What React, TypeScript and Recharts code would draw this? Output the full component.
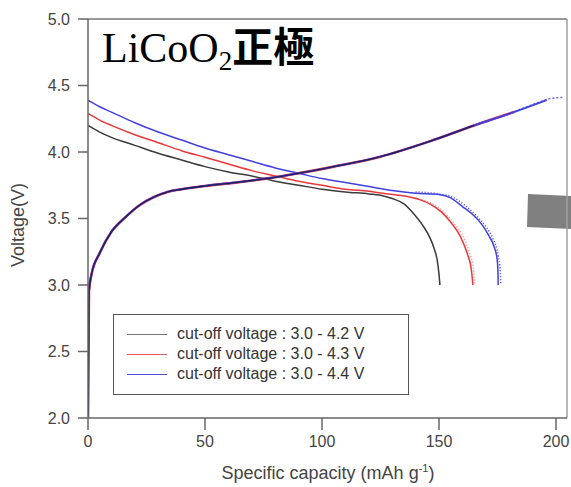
import { LineChart, Line, XAxis, YAxis, ReferenceLine, Label } from "recharts";

// charge curve, shared by all three cut-offs (each stops at its own upper limit)
const chargeCapacity = [0, 0.4, 1.5, 5, 10, 16, 22, 28, 34, 40, 50, 63, 76, 90, 105, 125, 146, 165, 182, 196];
const chargeVoltage = [2.0, 2.95, 3.08, 3.24, 3.4, 3.51, 3.6, 3.66, 3.7, 3.72, 3.745, 3.77, 3.8, 3.84, 3.89, 3.965, 4.08, 4.2, 4.3, 4.39];
const chargeLimit = [165, 182, 196];

// second-cycle charge tail of the 4.4 V cell
const chargeTailCapacity = [176, 186, 192, 197, 203];
const chargeTailVoltage = [4.26, 4.33, 4.37, 4.4, 4.41];

// discharge curves
const dischargeCapacity42 = [0, 5, 10, 20, 30, 40, 50, 60, 70, 80, 90, 100, 110, 120, 125, 130, 135, 139, 143, 146, 148, 149.3, 150, 150.4];
const dischargeVoltage42 = [4.2, 4.15, 4.11, 4.05, 3.99, 3.94, 3.89, 3.85, 3.82, 3.78, 3.75, 3.72, 3.7, 3.685, 3.675, 3.65, 3.61, 3.54, 3.45, 3.36, 3.27, 3.18, 3.08, 3.0];

const dischargeCapacity43 = [0, 5, 10, 20, 30, 40, 50, 60, 70, 80, 90, 100, 110, 120, 126, 135, 142, 146, 151, 156, 159, 162, 163.8, 164.5];
const dischargeVoltage43 = [4.29, 4.24, 4.2, 4.13, 4.07, 4.01, 3.96, 3.91, 3.86, 3.82, 3.78, 3.75, 3.72, 3.705, 3.69, 3.67, 3.64, 3.61, 3.55, 3.45, 3.37, 3.24, 3.12, 3.0];

const dischargeCapacity44 = [0, 5, 10, 20, 30, 40, 50, 60, 70, 80, 90, 100, 110, 120, 130, 140, 150, 155, 160, 165, 168.5, 171, 173.5, 174.8, 175.2, 175.3];
const dischargeVoltage44 = [4.39, 4.34, 4.3, 4.22, 4.15, 4.09, 4.03, 3.98, 3.93, 3.88, 3.84, 3.8, 3.77, 3.74, 3.71, 3.69, 3.68, 3.655, 3.59, 3.52, 3.45, 3.38, 3.29, 3.2, 3.1, 3.0];

// second-cycle discharge knees (dotted)
const dottedCapacity43 = [140, 146, 152, 157, 160.5, 163, 164.8, 165.4];
const dottedVoltage43 = [3.65, 3.62, 3.55, 3.45, 3.36, 3.24, 3.12, 3.0];
const dottedCapacity44 = [140, 150, 156, 161, 166, 170, 173, 175.3, 176.2, 176.4];
const dottedVoltage44 = [3.7, 3.685, 3.66, 3.6, 3.52, 3.44, 3.35, 3.22, 3.1, 3.0];

const legendLabels = [
  "cut-off voltage : 3.0 - 4.2 V",
  "cut-off voltage : 3.0 - 4.3 V",
  "cut-off voltage : 3.0 - 4.4 V",
];
const seriesColors = ["#3a3a3a", "#e8383c", "#4040e0"];
const legendLineColors = ["#777", "#e85a5e", "#5050e0"];

const xTicks = [0, 50, 100, 150, 200];
const yTicks = [2.0, 2.5, 3.0, 3.5, 4.0, 4.5, 5.0];
const xMax = 204.7;

const toPoints = (cap: number[], volt: number[]) => cap.map((x, i) => ({ x, v: volt[i] }));

const chargeCurves = chargeLimit.map((limit) =>
  toPoints(chargeCapacity, chargeVoltage).filter((p) => p.x <= limit)
);
const dischargeCurves = [
  toPoints(dischargeCapacity42, dischargeVoltage42),
  toPoints(dischargeCapacity43, dischargeVoltage43),
  toPoints(dischargeCapacity44, dischargeVoltage44),
];

const sans = "'Liberation Sans', Arial, sans-serif";
const serif = "'Liberation Serif', 'Times New Roman', serif";
const axisColor = "#666";

function Legend() {
  return (
    <div
      style={{
        position: "absolute",
        left: 113,
        top: 314,
        width: 296,
        height: 81,
        boxSizing: "border-box",
        border: "1.5px solid #555",
        background: "#fff",
        fontFamily: sans,
        fontSize: 16,
        color: "#333",
      }}
    >
      {legendLabels.map((label, i) => (
        <div
          key={label}
          style={{ position: "absolute", left: 13, top: 9 + i * 20, height: 20, display: "flex", alignItems: "center" }}
        >
          <span style={{ display: "inline-block", width: 40, height: 0, borderTop: `1.5px solid ${legendLineColors[i]}`, marginRight: 10 }} />
          <span>{label}</span>
        </div>
      ))}
    </div>
  );
}

export default function App() {
  return (
    <div style={{ position: "absolute", left: 0, top: 0, width: 571, height: 487, background: "#fff", overflow: "hidden" }}>
      {/* grey arrow block at the right edge */}
      <div
        style={{
          position: "absolute",
          left: 527,
          top: 194,
          width: 44,
          height: 36,
          background: "#808080",
          clipPath: "polygon(1px 0, 44px 2px, 44px 35px, 0 33px)",
        }}
      />
      <div style={{ position: "absolute", left: 0, top: 0 }}>
        <LineChart width={571} height={487} margin={{ top: 19, right: 4, left: 0, bottom: 0 }}>
          <XAxis
            dataKey="x"
            type="number"
            domain={[0, xMax]}
            ticks={xTicks}
            allowDataOverflow
            height={69}
            tickSize={12}
            tickMargin={6}
            axisLine={{ stroke: axisColor, strokeWidth: 1.5 }}
            tickLine={{ stroke: axisColor, strokeWidth: 1.5 }}
            tick={{ fill: "#444", fontSize: 16, fontFamily: sans }}
          >
            <Label
              content={() => (
                <text x={328} y={479} textAnchor="middle" fill="#444" fontSize={18} fontFamily={sans}>
                  Specific capacity (mAh g
                  <tspan fontSize={11} dy={-7}>-1</tspan>
                  <tspan dy={7}>)</tspan>
                </text>
              )}
            />
          </XAxis>
          <YAxis
            type="number"
            domain={[2, 5]}
            ticks={yTicks}
            allowDataOverflow
            width={88}
            tickSize={10}
            tickMargin={8}
            tickFormatter={(v: number) => v.toFixed(1)}
            axisLine={{ stroke: axisColor, strokeWidth: 1.5 }}
            tickLine={{ stroke: axisColor, strokeWidth: 1.5 }}
            tick={{ fill: "#444", fontSize: 16, fontFamily: sans }}
          >
            <Label
              content={() => (
                <text
                  x={24}
                  y={225}
                  textAnchor="middle"
                  fill="#444"
                  fontSize={18}
                  fontFamily={sans}
                  transform="rotate(-90 24 225)"
                >
                  Voltage(V)
                </text>
              )}
            />
          </YAxis>
          <ReferenceLine y={5} stroke="#777" strokeWidth={1.5} />
          <ReferenceLine x={xMax} stroke="#a0a0a0" strokeWidth={1.5} />

          {dischargeCurves.map((pts, i) => (
            <Line
              key={`d${i}`}
              data={pts}
              dataKey="v"
              type="monotone"
              stroke={seriesColors[i]}
              strokeWidth={1.5}
              dot={false}
              isAnimationActive={false}
            />
          ))}
          <Line
            data={toPoints(dottedCapacity43, dottedVoltage43)}
            dataKey="v"
            type="monotone"
            stroke={seriesColors[1]}
            strokeWidth={1.5}
            strokeDasharray="1 2"
            strokeOpacity={0.6}
            dot={false}
            isAnimationActive={false}
          />
          <Line
            data={toPoints(dottedCapacity44, dottedVoltage44)}
            dataKey="v"
            type="monotone"
            stroke={seriesColors[2]}
            strokeWidth={1.5}
            strokeDasharray="1 2"
            dot={false}
            isAnimationActive={false}
          />
          <Line
            data={toPoints(chargeTailCapacity, chargeTailVoltage)}
            dataKey="v"
            type="monotone"
            stroke="#6a6ae0"
            strokeWidth={1.5}
            strokeDasharray="2 2"
            dot={false}
            isAnimationActive={false}
          />
          {/* the three charge curves overlap; black is drawn last so the shared part reads dark */}
          {[1, 2, 0].map((i) => (
            <Line
              key={`c${i}`}
              data={chargeCurves[i]}
              dataKey="v"
              type="monotone"
              stroke={i === 0 ? "#1c1840" : seriesColors[i]}
              strokeWidth={i === 1 ? 2.6 : i === 2 ? 2 : 1.3}
              strokeOpacity={i === 0 ? 0.85 : 1}
              dot={false}
              isAnimationActive={false}
            />
          ))}
        </LineChart>
      </div>
      <Legend />
      <div
        style={{
          position: "absolute",
          left: 102,
          top: 23,
          lineHeight: "42px",
          whiteSpace: "nowrap",
          color: "#000",
        }}
      >
        <span style={{ fontFamily: serif, fontSize: 42 }}>LiCoO</span>
        <span style={{ fontFamily: serif, fontSize: 27, position: "relative", top: 8 }}>2</span>
        <span style={{ fontFamily: "'Noto Sans CJK JP', sans-serif", fontSize: 41, fontWeight: 700 }}>正極</span>
      </div>
    </div>
  );
}
